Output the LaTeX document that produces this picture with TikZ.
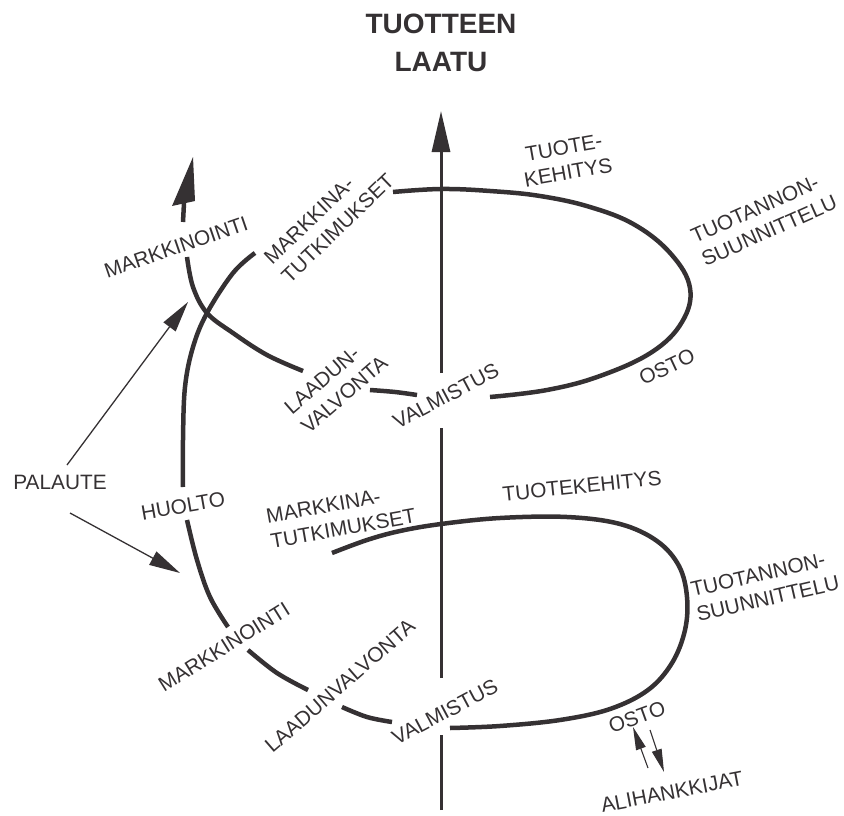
\documentclass[tikz,border=0pt]{standalone}
\usepackage{fontspec}
\setmainfont{Liberation Sans}
\usetikzlibrary{arrows.meta}
\definecolor{ink}{HTML}{353133}
\begin{document}
\begin{tikzpicture}[x=1pt,y=-1pt,
  lab/.style={font=\fontsize{20.8}{25.5}\selectfont, text=ink, inner sep=0pt, align=left},
  labc/.style={lab, align=center},
  spiral/.style={draw=ink, line width=4.5pt},
  axisline/.style={draw=ink, line width=3pt},
  fb/.style={draw=ink, line width=1.3pt, -{Triangle[length=31pt,width=15pt]}},
  sub/.style={draw=ink, line width=1.1pt, -{Triangle[length=23pt,width=10pt]}},
]
\useasboundingbox (0,0) rectangle (844,816);

% title
\node[font=\fontsize{28}{38}\selectfont\bfseries, text=ink, align=center, inner sep=0pt] (title) at (441,42.5) {TUOTTEEN\\LAATU};

% vertical axis
\coordinate (ax0) at (441,810); \coordinate (ax1) at (441,735);
\coordinate (ax2) at (441,678); \coordinate (ax3) at (441,428);
\coordinate (ax4) at (441,373); \coordinate (ax5) at (441,111);
\draw[axisline] (ax0) -- (ax1);
\draw[axisline] (ax2) -- (ax3);
\draw[axisline, -{Triangle[length=41pt,width=18pt]}] (ax4) -- (ax5);

% lower loop
\draw[spiral] plot[smooth, tension=0.6] coordinates {(450,728) (500,726) (560,720) (610,709) (648,690) (672,663) (685,630) (687,597) (679,566) (657,541) (620,524) (567,517) (500,518) (441,524) (400,531) (367,540) (332,553)};
\draw[spiral] plot[smooth, tension=0.6] coordinates {(392,722) (367,717) (342,707)};
\draw[spiral] plot[smooth, tension=0.6] coordinates {(308,690) (277,673) (248,650)};
\draw[spiral] plot[smooth, tension=0.6] coordinates {(228,627) (210,597) (197,560) (187,520)};
\draw[spiral] plot[smooth, tension=0.6] coordinates {(183,487) (183,440) (185,387) (193,347) (207,313) (233,273) (255,253)};

% upper loop
\draw[spiral] plot[smooth, tension=0.65] coordinates {(393,192) (441,189) (490,191) (540,196) (590,207) (635,225) (671,254) (690,288) (682,322) (652,352) (600,376) (547,390) (490,397)};
\draw[spiral] plot[smooth, tension=0.6] coordinates {(417,395) (395,392) (370,390)};
\draw[spiral] plot[smooth, tension=0.6] coordinates {(303,371) (267,355) (233,333) (207,313) (193,287) (187,257)};

% outgoing arrow (upper left)
\coordinate (ar0) at (183,222); \coordinate (ar1) at (184,203);
\draw[draw=ink, line width=4.5pt] (ar0) -- (ar1);
\fill[ink] (172,206) -- (195,201) -- (193,157) -- cycle;

% labels upper loop
\node[lab, rotate=19] (mk1) at (176,247) {MARKKINOINTI};
\node[lab, rotate=44] (mt1) at (329,219) {MARKKINA-\\TUTKIMUKSET};
\node[labc, rotate=10] (tk1) at (566,160) {TUOTE-\\KEHITYS};
\node[lab, rotate=24] (ts1) at (764,219) {TUOTANNON-\\SUUNNITTELU};
\node[lab, rotate=25] (os1) at (667,367) {OSTO};
\node[lab, rotate=28] (va1) at (446,396) {VALMISTUS};
\node[lab, rotate=41] (lv1) at (336,385) {LAADUN-\\VALVONTA};

% labels lower loop
\node[lab, rotate=10] (hu) at (183,506) {HUOLTO};
\node[lab] (pa) at (60,482) {PALAUTE};
\node[lab, rotate=32] (mk2) at (224,647) {MARKKINOINTI};
\node[lab, rotate=41] (lv2) at (340,686) {LAADUNVALVONTA};
\node[lab, rotate=28] (va2) at (445,712) {VALMISTUS};
\node[lab, rotate=10] (mt2) at (341,516) {MARKKINA-\\TUTKIMUKSET};
\node[lab, rotate=6] (tk2) at (582,486) {TUOTEKEHITYS};
\node[lab, rotate=13] (ts2) at (765,586) {TUOTANNON-\\SUUNNITTELU};
\node[lab, rotate=20] (os2) at (637,717) {OSTO};
\node[lab, rotate=11] (al) at (672,792) {ALIHANKKIJAT};

% feedback arrows
\coordinate (pa1) at (67,465); \coordinate (pa1t) at (188,302);
\coordinate (pa2) at (70,513); \coordinate (pa2t) at (180,573);
\draw[fb] (pa1) -- (pa1t);
\draw[fb] (pa2) -- (pa2t);

% subcontractor arrows
\coordinate (su1) at (648,768); \coordinate (su1t) at (633,727);
\coordinate (su2) at (650,730); \coordinate (su2t) at (664,772);
\draw[sub] (su1) -- (su1t);
\draw[sub] (su2) -- (su2t);
\end{tikzpicture}
\end{document}
